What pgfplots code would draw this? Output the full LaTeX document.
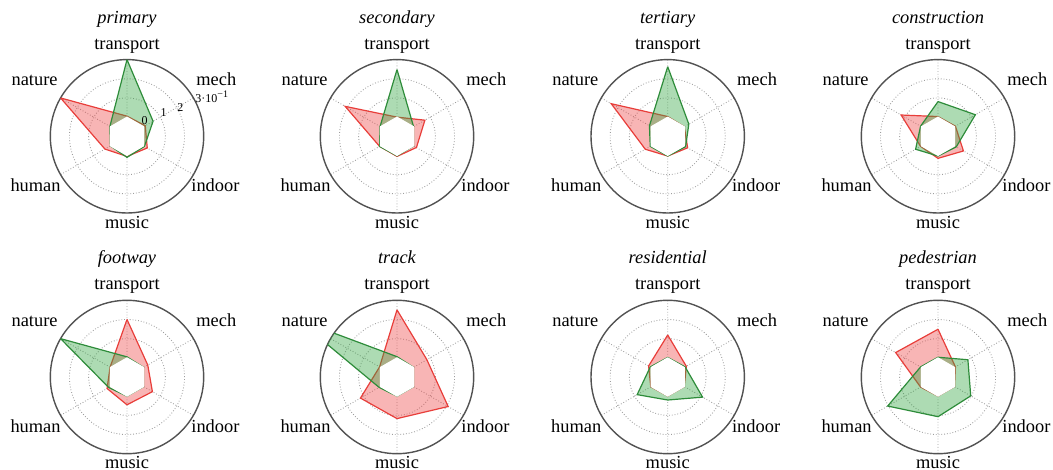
\documentclass[border=0pt]{standalone}
\usepackage{pgfplots}
\pgfplotsset{compat=1.18}
\usepackage{pgfplotstable}
\usepgfplotslibrary{polar}
\usepackage{fontspec}
\setmainfont{Liberation Serif}

\definecolor{redline}{RGB}{232,62,58}
\definecolor{redfill}{RGB}{238,70,70}
\definecolor{greenline}{RGB}{46,140,58}
\definecolor{greenfill}{RGB}{50,165,65}

% columns: angle (transport=90, mech=30, indoor=330, music=270, human=210, nature=150), value in units of 10^-1
\pgfplotstableread{
angle red green
90  0.05 3.00
30  0.10 0.57
330 0.22 0.05
270 0.05 0.10
210 0.33 0.00
150 3.00 0.03
90  0.05 3.00
}\primary
\pgfplotstableread{
angle red green
90  0.00 2.48
30  0.68 0.00
330 0.17 0.00
270 0.05 0.02
210 0.05 0.05
150 2.12 0.02
90  0.00 2.48
}\secondary
\pgfplotstableread{
angle red green
90  0.03 2.63
30  0.00 0.27
330 0.20 0.08
270 0.03 0.03
210 0.35 0.05
150 2.40 0.10
90  0.03 2.63
}\tertiary
\pgfplotstableread{
angle red green
90  0.03 0.81
30  0.05 1.25
330 0.53 0.10
270 0.15 0.03
210 0.05 0.35
150 1.22 0.05
90  0.03 0.81
}\construction
\pgfplotstableread{
angle red green
90  2.00 0.05
30  0.25 0.00
330 0.53 0.00
270 0.45 0.00
210 0.20 0.10
150 0.02 3.00
90  2.00 0.05
}\footway
\pgfplotstableread{
angle red green
90  2.50 0.06
30  0.80 0.00
330 2.08 0.00
270 1.17 0.00
210 1.20 0.08
150 0.05 5.00
90  2.50 0.06
}\track
\pgfplotstableread{
angle red green
90  1.19 0.02
30  0.12 0.05
330 0.00 1.10
270 0.00 0.20
210 0.02 0.84
150 0.15 0.05
90  1.19 0.02
}\residential
\pgfplotstableread{
angle red green
90  1.49 0.03
30  0.05 0.80
330 0.00 0.97
270 0.00 1.07
210 0.05 2.03
150 1.55 0.05
90  1.49 0.03
}\pedestrian

\pgfplotsset{
  radar/.style={
    scale only axis, width=76.7pt, height=76.7pt,
    anchor=center,
    xmin=0, xmax=360, ymin=0, ymax=4,
    xtick={30,90,150,210,270,330},
    ytick={2,3},
    xticklabels={}, yticklabels={},
    grid=major,
    major grid style={densely dotted, draw=black!38, line width=0.45pt},
    x axis line style={draw=black!68, line width=0.7pt},
    y axis line style={draw=none},
    tick style={draw=none},
    major tick length=0pt,
    clip=true,
  }
}
\newcommand\lab{\fontsize{9.2}{10}\selectfont}
\newcommand\ttl{\fontsize{9.2}{10}\selectfont\itshape}

\newcommand\radar[4]{%
  \begin{polaraxis}[radar, at={(#1,#2)}]
    \addplot[draw=redline, line width=0.6pt, fill=redfill, fill opacity=0.4]
      table[x=angle, y expr=\thisrow{red}+1] {#4};
    \addplot[draw=greenline, line width=0.6pt, fill=greenfill, fill opacity=0.4]
      table[x=angle, y expr=\thisrow{green}+1] {#4};
    \addplot[draw=white, line width=0.5pt, fill=white]
      coordinates {(90,1) (30,1) (330,1) (270,1) (210,1) (150,1) (90,1)};
  \end{polaraxis}
  \begin{scope}[shift={(#1,#2)}, every node/.style={inner sep=0pt}]
    \node[anchor=base, font=\ttl] at (0,56.5pt) {#3};
    \node[anchor=base, font=\lab] at (0,43.5pt) {transport};
    \node[anchor=base west, font=\lab] at (34.5pt,25.2pt) {mech};
    \node[anchor=base east, font=\lab] at (-34.5pt,25.2pt) {nature};
    \node[anchor=base west, font=\lab] at (32pt,-27.7pt) {indoor};
    \node[anchor=base east, font=\lab] at (-33pt,-27.7pt) {human};
    \node[anchor=base, font=\lab] at (0,-46pt) {music};
  \end{scope}
}

\begin{document}
\begin{tikzpicture}
\useasboundingbox (0,0) rectangle (526.5pt,235pt);
\radar{63.5pt}{166.85pt}{primary}{\primary}
\radar{198.5pt}{166.85pt}{secondary}{\secondary}
\radar{333.85pt}{166.85pt}{tertiary}{\tertiary}
\radar{469pt}{166.85pt}{construction}{\construction}
\radar{63.5pt}{46.5pt}{footway}{\footway}
\radar{198.5pt}{46.5pt}{track}{\track}
\radar{333.85pt}{46.5pt}{residential}{\residential}
\radar{469pt}{46.5pt}{pedestrian}{\pedestrian}
\begin{scope}[shift={(63.5pt,166.85pt)}, font=\fontsize{6}{7}\selectfont, every node/.style={inner sep=0pt}]
  \node at (8.85pt,7.8pt) {0};
  \node at (18.35pt,11.65pt) {1};
  \node at (26.65pt,14.5pt) {2};
  \node[anchor=west] at (34pt,19.6pt) {3·10\textsuperscript{−1}};
\end{scope}
\end{tikzpicture}
\end{document}
